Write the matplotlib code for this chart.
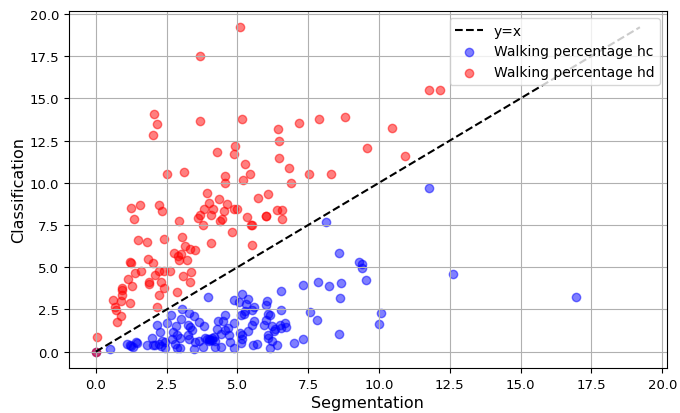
import numpy as np
import matplotlib
matplotlib.use("Agg")
import matplotlib.pyplot as plt

# walking percentage, healthy controls (hc): segmentation vs classification
hc_seg = [0.0, 0.49, 1.09, 1.19, 1.31, 1.25, 1.46, 1.40, 1.79, 1.99, 2.00, 2.09, 2.22, 2.30,
          2.34, 2.43, 2.45, 2.16, 2.26, 2.52, 2.66, 2.69, 2.73, 2.81, 2.83, 2.87, 2.88,
          2.96, 2.97, 2.99, 3.04, 3.26, 3.28, 3.27, 3.34, 3.28, 3.40, 3.46, 3.46, 3.49,
          3.63, 3.63, 3.77, 3.82, 3.84, 3.94, 3.95, 3.98, 4.00, 4.04, 4.09, 4.10, 4.16,
          4.20, 4.20, 4.27, 4.32, 4.43, 4.43, 4.48, 4.55, 4.57, 4.68, 4.70, 4.75, 4.86,
          4.87, 4.87, 5.07, 5.10, 5.14, 5.14, 5.16, 5.16, 5.16, 5.22, 5.28, 5.30, 5.36,
          5.36, 5.52, 5.51, 5.57, 5.55, 5.60, 5.69, 5.95, 5.99, 6.00, 6.03, 6.08, 6.14,
          6.08, 6.07, 6.15, 6.22, 6.23, 6.28, 6.34, 6.38, 6.49, 6.54, 6.54, 6.54, 6.69,
          6.70, 7.00, 7.31, 7.33, 7.57, 7.81, 7.83, 8.12, 8.24, 8.57, 8.60, 8.63, 8.65,
          9.28, 9.40, 9.40, 9.53, 10.00, 10.06, 11.75, 12.60, 16.96]
hc_cls = [0.0, 0.15, 0.47, 0.41, 0.28, 0.35, 0.51, 0.57, 0.37, 0.81, 0.40, 0.37, 0.47, 0.35,
          0.63, 0.22, 0.57, 1.60, 1.16, 1.72, 2.19, 0.77, 1.16, 0.47, 1.52, 0.22, 0.97,
          0.22, 0.81, 1.95, 2.50, 0.97, 0.77, 1.56, 1.46, 2.31, 1.26, 2.11, 0.14, 0.57,
          0.61, 1.75, 0.28, 1.54, 0.81, 0.77, 3.21, 0.65, 0.75, 0.67, 0.81, 0.70, 0.87,
          0.61, 0.28, 1.36, 1.82, 0.28, 1.06, 1.82, 2.18, 1.26, 1.41, 1.01, 0.57, 3.04,
          0.22, 1.72, 2.93, 1.12, 0.53, 2.15, 0.97, 0.77, 3.43, 2.25, 2.40, 2.85, 3.14,
          1.20, 1.56, 2.45, 2.64, 0.37, 1.80, 0.47, 1.60, 1.89, 2.78, 2.99, 2.25, 2.15,
          0.97, 0.81, 0.22, 0.62, 1.51, 1.21, 1.32, 0.40, 1.56, 1.40, 3.61, 2.49, 1.72,
          1.44, 0.53, 3.92, 0.73, 2.35, 1.87, 4.12, 7.65, 3.86, 1.02, 5.82, 3.17, 4.08,
          5.30, 5.20, 4.95, 4.27, 1.66, 2.29, 9.69, 4.62, 3.25]

# walking percentage, hd
hd_seg = [0.0, 0.05, 0.59, 0.69, 0.72, 0.75, 0.87, 0.89, 0.91, 0.92, 0.93, 1.13, 1.19, 1.21,
          1.23, 1.25, 1.29, 1.33, 1.38, 1.49, 1.56, 1.61, 1.81, 1.83, 1.87, 1.89, 2.01,
          2.02, 2.06, 2.08, 2.16, 2.16, 2.22, 2.22, 2.23, 2.30, 2.34, 2.39, 2.39, 2.42,
          2.52, 2.60, 2.76, 2.87, 2.90, 2.92, 2.94, 2.99, 3.04, 3.07, 3.11, 3.15, 3.23,
          3.33, 3.34, 3.37, 3.51, 3.62, 3.67, 3.68, 3.69, 3.80, 3.81, 3.94, 3.99, 4.07,
          4.08, 4.14, 4.29, 4.35, 4.40, 4.46, 4.54, 4.56, 4.56, 4.64, 4.80, 4.86, 4.89,
          4.92, 4.98, 5.08, 5.16, 5.19, 5.28, 5.33, 5.43, 5.48, 5.50, 5.51, 5.71, 6.01,
          6.01, 6.07, 6.38, 6.43, 6.47, 6.47, 6.56, 6.59, 6.82, 6.88, 7.18, 7.54, 7.89,
          8.31, 8.78, 9.57, 10.47, 10.93, 11.75, 12.16]
hd_cls = [0.0, 0.85, 3.04, 2.62, 2.45, 1.76, 3.00, 2.13, 3.63, 3.77, 3.33, 4.32, 2.88, 5.33,
          5.25, 8.52, 3.89, 7.83, 4.66, 6.59, 8.70, 4.77, 6.47, 5.46, 4.10, 4.02, 12.82,
          5.27, 14.06, 4.54, 13.47, 2.64, 8.70, 4.79, 3.35, 4.10, 8.30, 4.79, 3.79, 6.65,
          10.49, 4.79, 5.84, 3.53, 5.66, 5.44, 7.71, 5.76, 6.79, 4.47, 10.63, 6.23, 5.44,
          4.12, 6.05, 4.73, 6.01, 7.91, 13.65, 8.07, 17.50, 7.48, 8.46, 9.39, 8.78, 8.11,
          6.43, 8.46, 11.85, 9.05, 7.71, 7.83, 8.30, 10.41, 9.98, 8.76, 7.06, 11.68, 8.46,
          12.15, 8.42, 19.21, 13.75, 10.18, 11.12, 7.97, 10.53, 7.51, 7.48, 6.33, 9.11, 8.02,
          8.04, 9.31, 8.36, 13.20, 12.50, 11.44, 8.36, 7.87, 10.85, 9.98, 13.55, 10.53, 13.75,
          10.53, 13.92, 12.05, 13.23, 11.56, 15.52, 15.52]

mx = max(max(hc_seg), max(hc_cls), max(hd_seg), max(hd_cls))

fig, ax = plt.subplots(figsize=(6.8, 4.14), dpi=100)
ax.plot([0, mx], [0, mx], "k--", label="y=x")
ax.scatter(hc_seg, hc_cls, color="blue", alpha=0.5, label="Walking percentage hc")
ax.scatter(hd_seg, hd_cls, color="red", alpha=0.5, label="Walking percentage hd")
ax.set_xlabel("Segmentation", fontsize=11.5, labelpad=3)
ax.set_ylabel("Classification", fontsize=11.5, labelpad=2)
ax.tick_params(labelsize=9.5)
ax.grid(True)
ax.legend(loc="upper right", fontsize=10)
plt.subplots_adjust(left=0.101, right=0.981, top=0.971, bottom=0.109)
plt.savefig("out.png")
